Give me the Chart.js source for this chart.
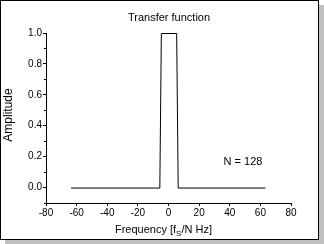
<!DOCTYPE html>
<html>
<head>
<meta charset="utf-8">
<script src="https://cdn.jsdelivr.net/npm/chart.js@4/dist/chart.umd.min.js"></script>
<style>
  html, body { margin: 0; padding: 0; background: #fff; }
  #wrap { position: relative; width: 324px; height: 244px; overflow: hidden; }
  #frame { position: absolute; left: 0; top: 0; width: 317px; height: 238px;
           border: 1px solid #000; background: #fff; box-shadow: 5px 5px 0 #c0c0c0; }
  #c { position: absolute; left: 0; top: 0; }
</style>
</head>
<body>
<div id="wrap">
  <div id="frame"></div>
  <canvas id="c" width="324" height="244"></canvas>
</div>
<script>
// ---- data ----
const frequency = [-64, -6, -5, 5, 6, 63];     // breakpoints of the transfer function [fS/N Hz]
const amplitude = [0, 0, 1, 1, 0, 0];
const xTickValues = [-80, -60, -40, -20, 0, 20, 40, 60, 80];
const yTickValues = [0.0, 0.2, 0.4, 0.6, 0.8, 1.0];
const yMinorTicks = [-0.1, 0.1, 0.3, 0.5, 0.7, 0.9];
const titleText = 'Transfer function';
const yTitle = 'Amplitude';
const xTitleParts = ['Frequency [f', 'S', '/N Hz]'];
const noteText = 'N = 128';

const FONT = '"Liberation Sans", Arial, sans-serif';

const textPlugin = {
  id: 'texts',
  beforeDatasetsDraw(chart) {
    chart.ctx.save();
    chart.ctx.translate(0.5, 0.5);
  },
  afterDatasetsDraw(chart) {
    chart.ctx.restore();
  },
  afterDraw(chart) {
    const ctx = chart.ctx;
    const ys = chart.scales.y;
    ctx.save();
    // minor ticks on y axis
    ctx.strokeStyle = '#000';
    ctx.lineWidth = 1;
    ctx.beginPath();
    yMinorTicks.forEach(v => {
      const py = Math.round(ys.getPixelForValue(v)) + 0.5;
      ctx.moveTo(ys.right - 2, py);
      ctx.lineTo(ys.right, py);
    });
    ctx.stroke();

    ctx.fillStyle = '#000';
    // title
    ctx.font = '11px ' + FONT;
    ctx.textAlign = 'center';
    ctx.textBaseline = 'alphabetic';
    ctx.fillText(titleText, 169, 21);
    // note
    ctx.fillText(noteText, 243, 165);
    // x title with subscript
    ctx.textAlign = 'left';
    ctx.font = '11px ' + FONT;
    const w0 = ctx.measureText(xTitleParts[0]).width;
    const w2 = ctx.measureText(xTitleParts[2]).width;
    ctx.font = '8px ' + FONT;
    const w1 = ctx.measureText(xTitleParts[1]).width;
    let x0 = 163.5 - (w0 + w1 + w2) / 2;
    ctx.font = '11px ' + FONT;
    ctx.fillText(xTitleParts[0], x0, 233);
    ctx.font = '8px ' + FONT;
    ctx.fillText(xTitleParts[1], x0 + w0, 236);
    ctx.font = '11px ' + FONT;
    ctx.fillText(xTitleParts[2], x0 + w0 + w1, 233);
    // y title
    ctx.translate(9, 115);
    ctx.rotate(-Math.PI / 2);
    ctx.font = '12px ' + FONT;
    ctx.textAlign = 'center';
    ctx.textBaseline = 'middle';
    ctx.fillText(yTitle, 0, 0);
    ctx.restore();
  }
};

new Chart(document.getElementById('c'), {
  type: 'line',
  data: {
    datasets: [{
      data: frequency.map((f, i) => ({ x: f, y: amplitude[i] })),
      borderColor: '#000',
      borderWidth: 1,
      pointRadius: 0,
      tension: 0,
      fill: false,
      clip: false
    }]
  },
  options: {
    responsive: false,
    animation: false,
    devicePixelRatio: 1,
    layout: { padding: { left: 0, top: 33, right: 33, bottom: 0 } },
    plugins: { legend: { display: false }, tooltip: { enabled: false }, title: { display: false } },
    scales: {
      x: {
        type: 'linear',
        min: -80, max: 80,
        afterBuildTicks: s => { s.ticks = xTickValues.map(v => ({ value: v })); },
        afterFit: s => { s.height = 41; },
        ticks: { color: '#000', font: { size: 10, family: FONT }, padding: 1, maxRotation: 0,
                 callback: v => String(v) },
        grid: { display: true, drawOnChartArea: false, drawTicks: true, tickLength: 3, color: '#000' },
        border: { display: true, color: '#000', width: 1 }
      },
      y: {
        type: 'linear',
        min: -0.1, max: 1.0,
        afterBuildTicks: s => { s.ticks = yTickValues.map(v => ({ value: v })); },
        afterFit: s => { s.width = 46; },
        ticks: { color: '#000', font: { size: 10, family: FONT }, padding: 1,
                 callback: v => Number(v).toFixed(1) },
        grid: { display: true, drawOnChartArea: false, drawTicks: true, tickLength: 3, color: '#000' },
        border: { display: true, color: '#000', width: 1 }
      }
    }
  },
  plugins: [textPlugin]
});
</script>
</body>
</html>
